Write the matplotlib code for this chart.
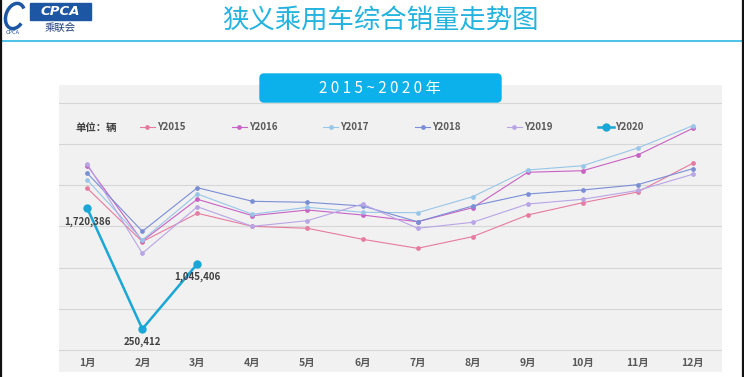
import numpy as np
import matplotlib
matplotlib.use("Agg")
import matplotlib.pyplot as plt
from matplotlib.patches import FancyBboxPatch, Rectangle, Arc

plt.rcParams["font.family"] = ["Noto Sans CJK SC", "DejaVu Sans"]

months = ["1月", "2月", "3月", "4月", "5月", "6月", "7月", "8月", "9月", "10月", "11月", "12月"]
y2015 = [1966000, 1315000, 1661000, 1502000, 1478000, 1344000, 1234000, 1376000, 1640000, 1790000, 1921000, 2271000]
y2016 = [2241000, 1323000, 1832000, 1632000, 1701000, 1640000, 1558000, 1729000, 2161000, 2180000, 2372000, 2697000]
y2017 = [2067000, 1335000, 1896000, 1649000, 1734000, 1673000, 1668000, 1863000, 2189000, 2241000, 2457000, 2729000]
y2018 = [2149000, 1441000, 1973000, 1807000, 1795000, 1750000, 1558000, 1750000, 1896000, 1945000, 2010000, 2205000]
y2019 = [2263000, 1173000, 1741000, 1502000, 1571000, 1774000, 1478000, 1551000, 1774000, 1832000, 1939000, 2137000]
y2020 = [1720386, 250412, 1045406]

series = [
    ("Y2015", y2015, "#e67aa0"),
    ("Y2016", y2016, "#c862c4"),
    ("Y2017", y2017, "#98c6e8"),
    ("Y2018", y2018, "#7a8ed6"),
    ("Y2019", y2019, "#b8a5e6"),
]

W, H = 744, 377
fig = plt.figure(figsize=(W / 100, H / 100), dpi=100)
fig.patch.set_facecolor("white")

# chart panel
ax = fig.add_axes([59 / W, 1 - 372 / H, 663 / W, 287 / H])
ax.set_facecolor("#f1f1f1")
x = np.arange(1, 13)
for name, vals, col in series:
    ax.plot(x, vals, color=col, lw=0.8, marker="o", markersize=2.4, label=name, zorder=3)
x20 = np.arange(1, len(y2020) + 1)
ax.plot(x20, y2020, color="#1aa7d6", lw=1.8, marker="o", markersize=5, label="Y2020", zorder=4)
for xi, v in zip(x20, y2020):
    ax.annotate(f"{v:,}", (xi, v), xytext=(0, -9.5), textcoords="offset points",
                ha="center", va="center", fontsize=7, fontweight="bold", color="#404040", zorder=5)

ax.set_xlim(0.486, 12.53)
ax.set_ylim(-274000, 3225000)
ax.set_yticks(np.arange(0, 3000001, 500000))
ax.yaxis.grid(True, color="#d6d6d6", lw=0.8)
ax.set_axisbelow(True)
ax.tick_params(axis="y", left=False, labelleft=False)
ax.set_xticks(x)
ax.set_xticklabels(months, fontsize=7.5, fontweight="bold", color="#595959")
ax.tick_params(axis="x", length=0, pad=-10)
for s in ax.spines.values():
    s.set_visible(False)

ax.legend(loc="center left", bbox_to_anchor=(0.122, 0.852), ncol=6, frameon=False,
          handlelength=1.55, handletextpad=0.2, columnspacing=4.75,
          borderpad=0, borderaxespad=0, prop={"weight": "bold", "size": 7},
          labelcolor="#595959")

# overlay for decorations in pixel coordinates
ov = fig.add_axes([0, 0, 1, 1], facecolor="none")
ov.set_xlim(0, W)
ov.set_ylim(H, 0)
ov.axis("off")

ov.text(75, 127.5, "单位：辆", ha="left", va="center", fontsize=7.5,
        fontweight="bold", color="#404040")
ov.text(380, 20, "狭义乘用车综合销量走势图", ha="center", va="center", fontsize=19, color="#22b3df")
ov.plot([2, 742], [40.5, 40.5], color="#3dbde3", lw=1.3)
ov.plot([0.8, 0.8], [0, H], color="#111111", lw=1.6)
ov.plot([743.2, 743.2], [0, H], color="#111111", lw=1.6)

# logo
ov.add_patch(Rectangle((29.5, 3), 61, 17, color="#1d56a2"))
ov.text(60, 11.5, "CPCA", ha="center", va="center", fontsize=9.5, color="white",
        style="italic", fontweight="bold", family="DejaVu Sans")
ov.text(60, 28, "乘联会", ha="center", va="center", fontsize=7.5, color="#1d3f7a")
ov.add_patch(Arc((15, 16), 18, 26, angle=20, theta1=30, theta2=300, color="#1d56a2", lw=2.5))
ov.text(13, 33, "CPCA", ha="center", va="center", fontsize=4, color="#1d56a2", style="italic")

# year box
ov.add_patch(FancyBboxPatch((260, 74), 241, 28, boxstyle="round,pad=0,rounding_size=4",
                            color="#0cb0ea", zorder=5))
ov.text(380, 88, "2 0 1 5 ~ 2 0 2 0 年", ha="center", va="center", fontsize=11,
        color="white", zorder=6)

fig.savefig("out.png", dpi=100)
